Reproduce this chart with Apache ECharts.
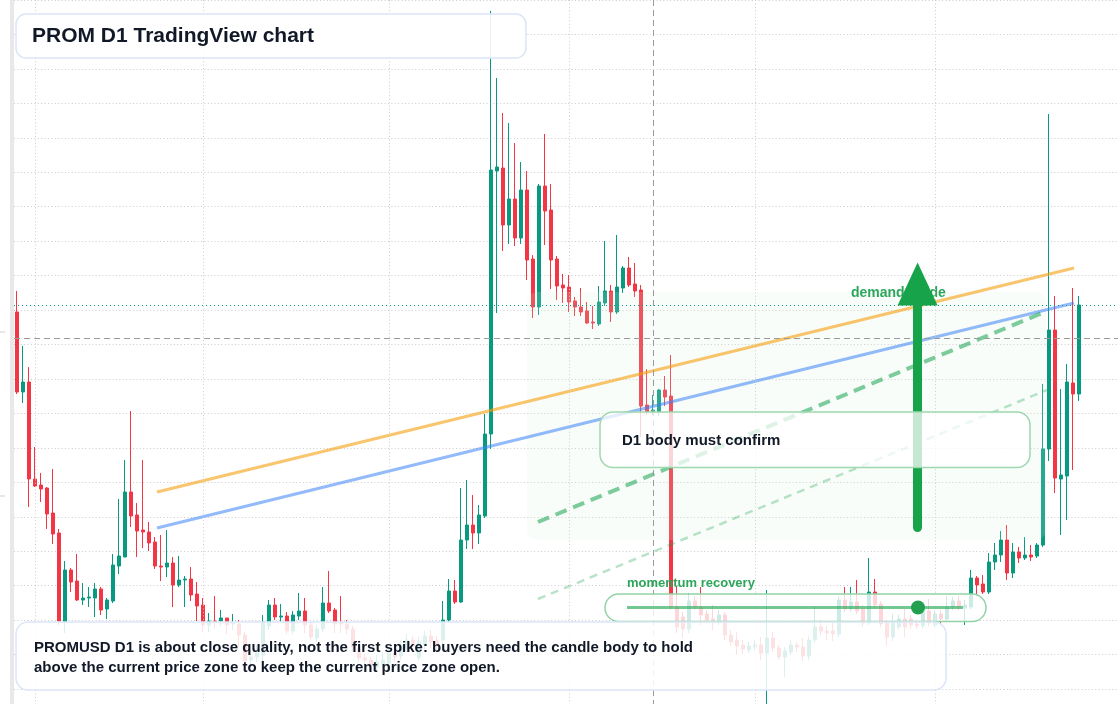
<!DOCTYPE html>
<html>
<head>
<meta charset="utf-8">
<title>PROM D1 TradingView chart</title>
<script src="https://cdn.jsdelivr.net/npm/echarts@6/dist/echarts.min.js"></script>
<style>
html, body { margin: 0; padding: 0; background: #ffffff; }
#chart { width: 1120px; height: 704px; }
</style>
</head>
<body>
<div id="chart"></div>
<script>
// --- daily candles, PROMUSD D1 ---
var opens = [8.92,8.12,8.22,7.25,7.19,7.16,6.91,6.71,5.82,6.34,6.23,6.04,6.06,6.06,6.15,5.95,6.03,6.38,6.47,7.12,
  6.89,6.74,6.72,6.62,6.38,6.37,6.41,6.19,6.24,6.25,6.10,5.99,5.79,5.83,5.83,5.86,5.80,5.80,5.69,5.44,
  5.47,5.49,5.78,5.99,5.87,5.88,5.73,5.88,5.93,5.79,5.66,5.75,6.01,5.94,5.81,5.80,5.75,5.55,5.46,5.44,
  5.37,5.40,5.41,5.51,5.48,5.56,5.64,5.46,5.59,5.68,5.64,5.64,5.84,6.13,6.02,6.64,6.79,6.71,6.88,7.70,
  10.33,10.36,9.79,10.05,9.66,10.14,9.45,8.97,10.18,9.94,9.45,9.19,9.17,9.03,8.97,8.93,8.82,8.80,9.01,9.13,
  8.92,9.16,9.36,9.20,9.14,7.99,7.92,7.92,8.14,8.08,5.97,5.87,5.75,6.03,5.97,5.90,5.85,5.82,5.89,5.69,
  5.64,5.59,5.54,5.57,5.59,5.51,5.66,5.56,5.47,5.52,5.59,5.57,5.48,5.64,5.77,5.73,5.73,5.70,6.04,5.95,
  6.02,5.95,5.81,6.12,6.00,5.81,5.67,5.77,5.85,5.85,5.80,5.78,5.93,5.79,5.90,5.85,5.97,6.03,5.96,5.97,
  6.26,6.20,6.12,6.42,6.49,6.64,6.31,6.52,6.46,6.49,6.48,6.59,7.55,8.74,7.25,7.28,8.21,8.10];
var closes = [8.12,8.22,7.25,7.18,7.15,6.90,6.70,5.83,6.34,6.22,6.04,6.06,6.07,6.15,5.94,6.04,6.39,6.48,7.12,6.88,
  6.73,6.72,6.61,6.38,6.37,6.41,6.19,6.24,6.25,6.09,5.98,5.79,5.83,5.82,5.86,5.79,5.81,5.69,5.43,5.47,
  5.51,5.82,5.99,5.87,5.88,5.73,5.89,5.93,5.79,5.67,5.75,6.01,5.93,5.80,5.80,5.75,5.57,5.46,5.44,5.39,
  5.42,5.44,5.51,5.47,5.59,5.64,5.58,5.62,5.68,5.62,5.58,5.84,6.13,6.02,6.64,6.79,6.71,6.89,7.70,10.34,
  10.37,9.79,10.05,9.66,10.14,9.44,8.97,10.18,9.93,9.44,9.18,9.16,9.02,8.97,8.92,8.81,8.81,9.02,9.13,8.92,
  9.17,9.36,9.19,9.13,7.98,7.92,7.94,8.14,8.07,5.97,5.77,5.75,6.03,5.97,5.89,5.84,5.82,5.89,5.69,5.62,
  5.58,5.55,5.58,5.59,5.51,5.66,5.56,5.47,5.53,5.59,5.57,5.48,5.64,5.77,5.73,5.71,5.70,6.04,5.95,6.02,
  5.93,5.81,6.12,5.99,5.80,5.67,5.81,5.85,5.77,5.79,5.78,5.95,5.81,5.90,5.85,5.97,6.03,5.97,5.99,6.26,
  6.19,6.12,6.42,6.49,6.64,6.31,6.52,6.46,6.49,6.47,6.59,7.55,8.74,7.26,7.29,8.22,8.10,8.99];
var lows = [8.10,8.01,6.97,7.17,7.02,6.75,6.60,5.79,5.71,6.12,6.03,5.99,5.97,5.87,5.89,5.85,6.01,6.30,6.47,6.77,
  6.47,6.56,6.53,6.35,6.23,6.27,5.97,6.17,5.97,6.03,5.83,5.72,5.72,5.76,5.78,5.70,5.74,5.57,5.42,5.40,
  5.42,5.39,5.74,5.84,5.82,5.70,5.70,5.84,5.71,5.64,5.62,5.72,5.91,5.71,5.71,5.70,5.52,5.42,5.39,5.34,
  5.32,5.36,5.37,5.42,5.44,5.52,5.54,5.43,5.54,5.56,5.54,5.60,5.82,6.00,6.01,6.55,6.55,6.60,6.86,7.55,
  8.91,9.53,9.60,9.58,9.60,9.24,8.86,8.89,9.59,9.15,9.04,9.01,8.92,8.88,8.88,8.80,8.75,8.78,8.98,8.82,
  8.90,9.11,9.17,9.07,7.67,7.89,7.89,7.88,7.98,5.94,5.71,5.66,5.71,5.94,5.79,5.81,5.74,5.79,5.64,5.58,
  5.49,5.50,5.51,5.54,5.44,4.89,5.52,5.44,5.27,5.49,5.52,5.43,5.44,5.61,5.69,5.64,5.63,5.67,5.92,5.92,
  5.90,5.77,5.79,5.96,5.77,5.58,5.63,5.74,5.67,5.75,5.75,5.75,5.78,5.76,5.79,5.83,5.94,5.94,5.79,5.95,
  6.08,6.10,6.10,6.34,6.42,6.24,6.26,6.41,6.44,6.43,6.46,6.57,7.43,7.11,6.69,6.84,7.34,8.03];
var highs = [9.13,8.58,8.37,7.57,7.31,7.17,7.35,6.75,6.43,6.36,6.50,6.21,6.17,6.21,6.17,6.06,6.50,7.05,7.44,7.93,
  7.01,7.44,6.82,6.67,6.69,6.74,6.47,6.48,6.28,6.37,6.22,6.06,5.91,6.08,5.94,5.86,5.90,5.84,5.72,5.54,
  5.59,5.89,6.04,6.06,6.00,5.92,5.93,6.11,6.06,5.82,5.79,6.17,6.33,5.96,6.08,5.84,5.78,5.59,5.50,5.47,
  5.49,5.52,5.56,5.59,5.64,5.70,5.68,5.67,5.73,5.74,5.68,6.03,6.25,6.24,7.16,7.24,7.09,6.99,7.90,11.93,
  11.26,10.91,10.81,10.61,10.42,10.33,9.49,10.20,10.70,10.20,9.48,9.30,9.29,9.07,9.16,9.02,8.98,9.18,9.63,9.19,
  9.69,9.38,9.47,9.41,9.19,8.35,8.09,8.15,8.28,8.49,6.17,5.92,6.11,6.08,6.17,5.94,5.99,5.94,5.92,5.74,
  5.72,5.64,5.62,5.64,5.67,6.14,5.72,5.59,5.57,5.64,5.62,5.66,5.68,5.98,5.84,5.78,5.81,6.08,6.17,6.17,
  6.24,5.99,6.46,6.25,6.03,5.84,5.90,5.89,5.95,5.89,5.84,5.99,6.05,5.94,5.94,6.08,6.07,6.08,6.04,6.34,
  6.28,6.29,6.51,6.61,6.73,6.79,6.61,6.57,6.67,6.59,6.61,8.20,10.90,9.08,8.15,8.40,9.16,9.08];

// --- annotations, in bar-index / price units ---
var orangeLine = [[23.33, 7.12], [176.17, 9.36]];
var blueLine = [[23.33, 6.76], [176.17, 9.01]];
var guideLine = [[86.83, 6.82], [171.67, 8.93]];
var guideLineLow = [[86.83, 6.05], [171.67, 8.14]];
var zoneX = [85, 171.5];
var zoneY = [6.64, 9.12];
var arrowX = 150.1;
var arrowY = [6.765, 9.20];
var triggerPrice = 8.99;
var currentPrice = 8.655;
var crossDate = '2025-05-15';
var monthStarts = ['2025-02-01', '2025-03-01', '2025-04-01', '2025-05-01', '2025-06-01', '2025-07-01'];
var edgeTicks = [8.72, 7.08];

// axis: 184 daily slots, the last 6 empty
var dates = [];
var t0 = Date.UTC(2025, 0, 29);
for (var i = 0; i < 184; i++) {
    dates.push(new Date(t0 + i * 86400000).toISOString().slice(0, 10));
}
var candles = opens.map(function (o, i) { return [o, closes[i], lows[i], highs[i]]; });

var up = '#089981', down = '#f23645';
var font = '"Liberation Sans", Arial, sans-serif';
var ink = '#111827';
var yTop = 12.04, yBottom = 5.00;
var gridDots = { color: '#cccccc', width: 1, type: [1, 2.4] };

var chart = echarts.init(document.getElementById('chart'), null, { renderer: 'canvas' });
chart.setOption({
    animation: false,
    backgroundColor: '#ffffff',
    grid: { left: 14, right: 2, top: 0, bottom: 0 },
    xAxis: [
        { type: 'category', data: dates, boundaryGap: true, show: false },
        { type: 'value', min: -0.5, max: 183.5, show: false }
    ],
    yAxis: [
        { type: 'value', min: yBottom, max: yTop, show: false },
        {
            // price grid: one dotted line per 34.45 px, counted from the top
            type: 'value', inverse: true, min: 0, max: 20.4354, interval: 1,
            axisLine: { show: false }, axisTick: { show: false }, axisLabel: { show: false },
            splitLine: { show: true, lineStyle: gridDots }
        }
    ],
    series: [
        {
            // reference lines under the candles
            type: 'line', xAxisIndex: 1, yAxisIndex: 0, data: [], z: 1, silent: true,
            markLine: {
                silent: true, symbol: 'none', label: { show: false },
                data: monthStarts.map(function (m) {
                    var x = dates.indexOf(m);
                    return [{ coord: [x, yTop], lineStyle: gridDots }, { coord: [x, yBottom] }];
                }).concat([
                    [{ coord: [dates.indexOf(crossDate), yTop], lineStyle: { color: '#9a9a9a', width: 1, type: [6, 4] } },
                     { coord: [dates.indexOf(crossDate), yBottom] }],
                    [{ coord: [-0.5, currentPrice], lineStyle: { color: '#9a9a9a', width: 1, type: [6, 4] } },
                     { coord: [183.5, currentPrice] }],
                    [{ coord: [-0.5, triggerPrice], lineStyle: { color: up, width: 1, type: [1, 3] } },
                     { coord: [183.5, triggerPrice] }]
                ])
            }
        },
        {
            type: 'candlestick', xAxisIndex: 0, yAxisIndex: 0, data: candles,
            barWidth: 4, clip: false, z: 2,
            itemStyle: { color: up, color0: down, borderColor: up, borderColor0: down, borderWidth: 1 }
        },
        {
            type: 'custom', xAxisIndex: 1, yAxisIndex: 0, z: 3, silent: true, clip: false,
            data: [[zoneX[0], zoneX[1], zoneY[0], zoneY[1]]],
            renderItem: function (params, api) {
                var a = api.coord([api.value(0), api.value(3)]);
                var b = api.coord([api.value(1), api.value(2)]);
                return {
                    type: 'rect',
                    shape: { x: a[0], y: a[1], width: b[0] - a[0], height: b[1] - a[1], r: 10 },
                    style: { fill: 'rgba(215,243,223,0.16)' }
                };
            }
        },
        { type: 'line', xAxisIndex: 1, data: orangeLine, symbol: 'none', z: 4, silent: true,
          lineStyle: { color: 'rgba(245,158,11,0.6)', width: 3 } },
        { type: 'line', xAxisIndex: 1, data: blueLine, symbol: 'none', z: 4, silent: true,
          lineStyle: { color: 'rgba(59,130,246,0.55)', width: 3 } },
        { type: 'line', xAxisIndex: 1, data: guideLine, symbol: 'none', z: 4, silent: true,
          lineStyle: { color: 'rgba(22,163,74,0.55)', width: 4, type: [12, 7] } },
        { type: 'line', xAxisIndex: 1, data: guideLineLow, symbol: 'none', z: 4, silent: true,
          lineStyle: { color: 'rgba(22,163,74,0.3)', width: 2.5, type: [8, 6] } },
        {
            type: 'line', xAxisIndex: 1, data: [], z: 6, silent: true,
            markLine: {
                silent: true, symbol: ['none', 'triangle'], symbolSize: [40, 43], label: { show: false },
                lineStyle: { color: '#16a34a', width: 9, type: 'solid', cap: 'round' },
                itemStyle: { color: '#16a34a' },
                data: [[{ coord: [arrowX, arrowY[0]] }, { coord: [arrowX, arrowY[1]] }]]
            }
        }
    ],
    graphic: [
        { type: 'rect', z: 1, shape: { x: 10, y: 0, width: 4, height: 704 }, style: { fill: '#e8e8e8' } },
        { type: 'line', z: 1, shape: { x1: 0, y1: 332, x2: 5, y2: 332 }, style: { stroke: '#cfcfcf', lineWidth: 1 } },
        { type: 'line', z: 1, shape: { x1: 0, y1: 496, x2: 5, y2: 496 }, style: { stroke: '#cfcfcf', lineWidth: 1 } },
        { type: 'text', z: 5, x: 851, y: 293,
          style: { text: 'demand guide', fill: '#2ca65a', font: 'bold 14px ' + font, verticalAlign: 'middle' } },

        { type: 'rect', z: 10, shape: { x: 16, y: 14, width: 510, height: 44, r: 10 },
          style: { fill: 'rgba(255,255,255,0.9)', stroke: '#dbe6f8', lineWidth: 1.5 } },
        { type: 'text', z: 11, x: 32, y: 36,
          style: { text: 'PROM D1 TradingView chart', fill: ink, font: 'bold 21px ' + font, verticalAlign: 'middle' } },

        { type: 'rect', z: 10, shape: { x: 600, y: 412, width: 430, height: 55.5, r: 13 },
          style: { fill: 'rgba(255,255,255,0.75)', stroke: '#9fd8b0', lineWidth: 1.5 } },
        { type: 'text', z: 11, x: 622, y: 441,
          style: { text: 'D1 body must confirm', fill: ink, font: 'bold 15px ' + font, verticalAlign: 'middle' } },

        { type: 'text', z: 11, x: 627, y: 583,
          style: { text: 'momentum recovery', fill: '#2ca65a', font: 'bold 13px ' + font, verticalAlign: 'middle' } },
        { type: 'rect', z: 10, shape: { x: 605, y: 594, width: 381, height: 27.5, r: 13.75 },
          style: { fill: 'rgba(255,255,255,0.8)', stroke: '#93d4a6', lineWidth: 1.5 } },
        { type: 'line', z: 11, shape: { x1: 627, y1: 607.5, x2: 963, y2: 607.5 },
          style: { stroke: 'rgba(22,163,74,0.6)', lineWidth: 3 } },
        { type: 'circle', z: 12, shape: { cx: 918, cy: 607.5, r: 7 }, style: { fill: '#22a04f' } },

        { type: 'rect', z: 10, shape: { x: 16, y: 622, width: 930, height: 68, r: 12 },
          style: { fill: 'rgba(255,255,255,0.86)', stroke: '#dbe6f8', lineWidth: 1.5 } },
        { type: 'text', z: 11, x: 34, y: 648,
          style: { text: 'PROMUSD D1 is about close quality, not the first spike: buyers need the candle body to hold',
                   fill: ink, font: 'bold 15px ' + font, verticalAlign: 'middle' } },
        { type: 'text', z: 11, x: 34, y: 667.5,
          style: { text: 'above the current price zone to keep the current price zone open.',
                   fill: ink, font: 'bold 15px ' + font, verticalAlign: 'middle' } }
    ]
});
window.addEventListener('resize', function () { chart.resize(); });
</script>
</body>
</html>
